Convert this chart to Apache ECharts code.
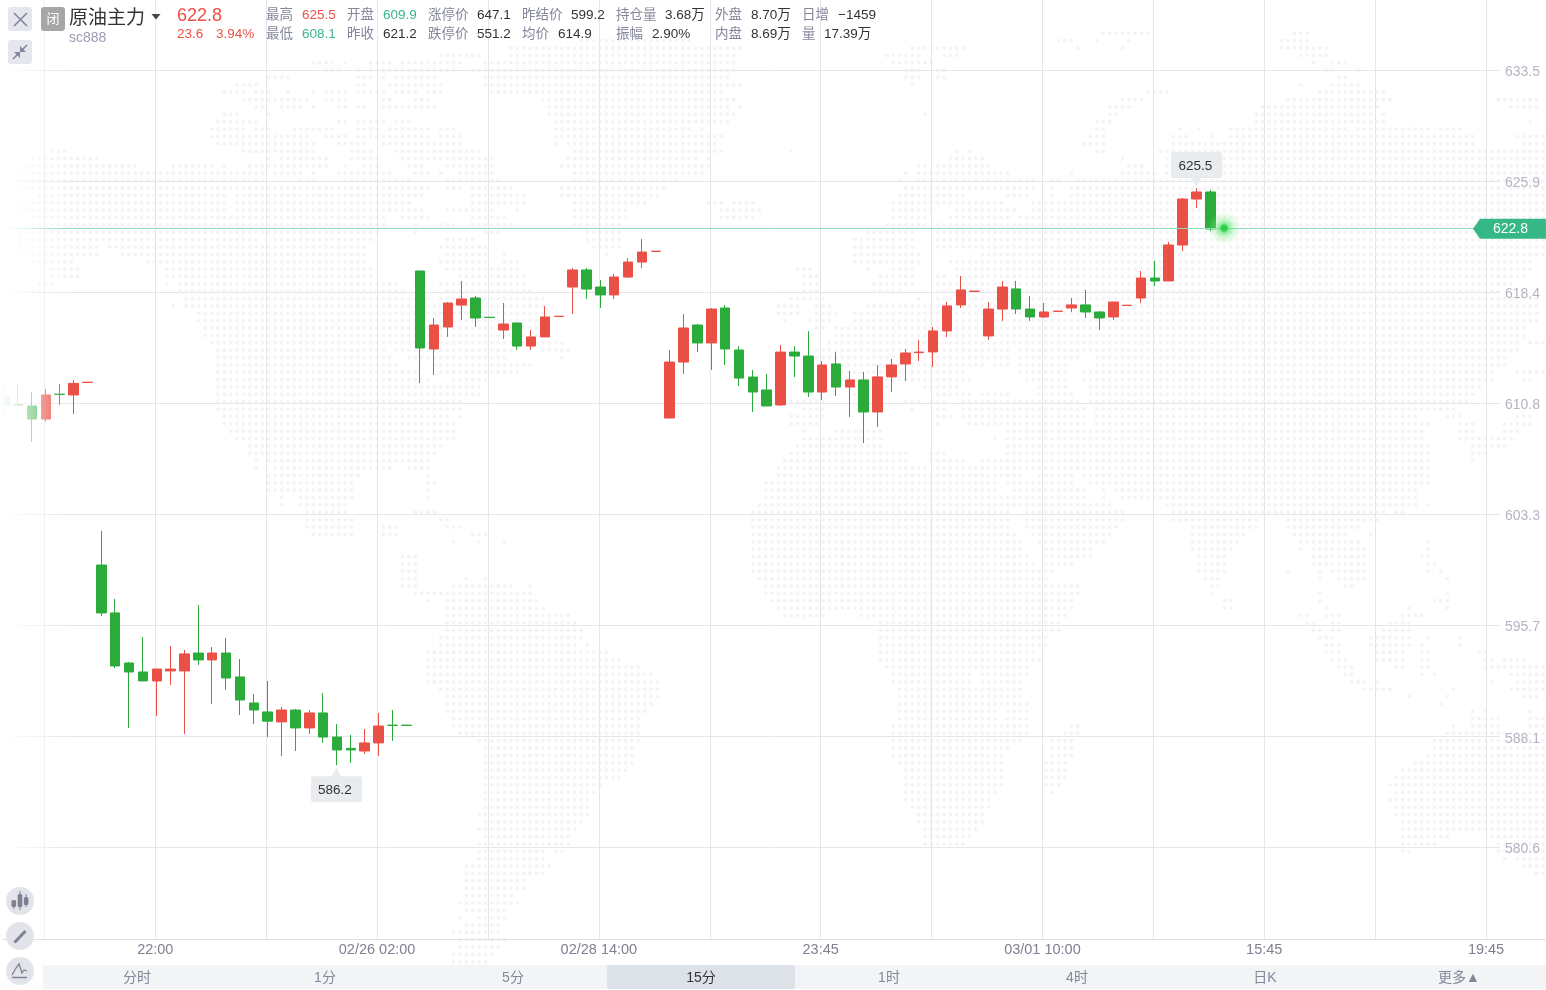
<!DOCTYPE html>
<html><head><meta charset="utf-8">
<style>html,body{margin:0;padding:0;background:#fff}#c{width:1546px;height:990px}</style>
<script src="https://cdn.jsdelivr.net/npm/echarts@6/dist/echarts.min.js"></script>
</head><body><div id="c"></div>
<script>
// ---------- chart values ----------
const opens  = [611.27,610.75,610.66,609.77,611.47,611.41,612.26,599.83,596.57,593.16,592.55,591.94,592.62,592.62,593.84,593.37,593.84,592.21,590.44,589.83,589.15,589.96,588.74,589.76,588.12,587.35,587.17,587.72,588.93,588.93,
619.85,614.54,616.04,617.53,618.01,616.70,615.83,616.31,614.74,615.36,616.75,618.76,619.92,618.76,618.22,619.44,620.46,621.18,
609.84,613.65,616.17,614.95,617.33,614.47,612.63,611.75,610.73,614.33,614.06,611.61,613.52,611.95,612.43,610.25,612.64,613.52,614.29,614.34,615.77,617.54,618.46,615.43,617.26,618.63,617.26,616.72,617.10,617.33,617.54,617.06,616.72,617.50,618.01,619.37,619.17,621.62,624.75,625.23];
const closes = [610.68,610.72,609.77,611.41,611.44,612.20,612.28,596.57,592.96,592.55,591.94,592.75,592.75,593.78,593.37,593.84,592.14,590.64,589.96,589.20,589.96,588.74,589.76,588.12,587.24,587.24,587.72,588.87,588.91,588.91,
614.61,616.17,617.67,617.94,616.65,616.68,616.24,614.74,615.36,616.72,616.77,619.92,618.62,618.22,619.44,620.46,621.14,621.20,
613.65,615.97,614.95,617.26,614.54,612.56,611.61,610.66,614.33,614.06,611.61,613.45,611.95,612.43,610.25,612.64,613.45,614.27,614.33,615.77,617.47,618.56,618.48,617.26,618.76,617.26,616.72,617.06,617.12,617.54,617.06,616.65,617.74,617.52,619.37,619.17,621.62,624.75,625.23,622.71];
const lows   = [609.93,610.70,608.23,609.59,610.73,610.11,612.26,596.36,592.82,588.74,591.94,589.55,591.67,588.33,593.03,590.37,591.33,589.62,589.01,588.12,586.83,587.17,588.33,587.72,586.20,586.36,586.97,586.83,587.85,588.91,
612.22,612.77,615.36,616.51,616.04,616.68,615.22,614.47,614.47,615.36,616.75,616.92,617.94,617.33,617.94,619.37,620.05,621.18,
609.84,612.84,614.33,613.11,613.45,612.02,610.25,610.66,610.66,612.63,611.27,611.07,611.34,609.91,608.14,609.23,611.61,612.36,613.72,613.32,615.36,617.33,618.46,615.15,616.45,616.92,616.45,616.65,617.10,617.06,616.65,615.84,616.52,617.50,617.67,618.83,619.17,621.21,624.14,622.57];
const highs  = [612.20,612.20,611.61,611.82,612.16,612.43,612.28,602.15,597.52,593.23,594.93,592.75,594.32,594.05,597.11,594.25,594.87,593.43,591.05,591.94,590.17,590.03,589.96,591.12,589.01,588.26,588.67,589.76,589.96,588.93,
619.85,616.65,617.74,619.17,618.15,616.70,617.67,616.31,615.83,617.47,616.77,620.05,620.05,619.24,619.64,620.73,622.03,621.20,
614.47,616.92,616.24,617.33,617.53,614.74,613.11,612.84,614.81,614.74,615.76,613.72,614.34,613.04,612.98,613.45,613.86,614.54,615.15,616.04,617.74,619.51,618.48,617.74,619.17,619.17,618.15,617.67,617.12,618.01,618.56,617.13,617.74,617.52,619.85,620.53,621.83,624.82,625.50,625.37];
const lastPrice = 622.77;
const yTicks = [633.5,625.943,618.386,610.829,603.272,595.715,588.14,580.601];
const xTickIndex = [11,27,43,59,75,91,107];
const xTickLabels = ['22:00','02/26 02:00','02/28 14:00','23:45','03/01 10:00','15:45','19:45'];
const tabs = ['分时','1分','5分','15分','1时','4时','日K','更多▲'];
const headerRow1 = [['最高',266,'g'],['625.5',302,'r'],['开盘',347,'g'],['609.9',383,'t'],['涨停价',428,'g'],['647.1',477,'k'],['昨结价',522,'g'],['599.2',571,'k'],['持仓量',616,'g'],['3.68万',665,'k'],['外盘',715,'g'],['8.70万',751,'k'],['日增',802,'g'],['−1459',838,'k']];
const headerRow2 = [['最低',266,'g'],['608.1',302,'t'],['昨收',347,'g'],['621.2',383,'k'],['跌停价',428,'g'],['551.2',477,'k'],['均价',522,'g'],['614.9',558,'k'],['振幅',616,'g'],['2.90%',652,'k'],['内盘',715,'g'],['8.69万',751,'k'],['量',802,'g'],['17.39万',824,'k']];

// ---------- decorative dotted world map (background only) ----------
const mapA = [[8,"635-665 700 740-790 815-845 860-925 975-1475"],[30,"660-680 715 745-790 800-910 945-1470"],[52,"545-575 715-745 765 800-870 975-1465"],[74,"480-510 715-730 790-890 970-1490"],[96,"455-485 520-535 585 635 660-690 725-770 800-830 865-885 985-1450"],[118,"495-565 585-615 660-690 765-780 830-860 1090-1475"],[140,"520-530 570-610 635 675-690 715-730 765-870 1100-1460 1485"],[162,"445-470 545 1110-1475"],[184,"440-510 675 695 725-770 800-820 1120-1460"],[206,"430-495 520-535 595-625 645-665 725-755 790-860 880-910 1120-1390 1410"],[228,"430-620 660-700 725-755 775-810 825-855 890-925 1120-1420 1435-1445"],[250,"440-470 495-625 685-730 775-810 825-925 1120 1145-1435"],[272,"110-125 495-630 710-745 800-960 1160-1420 1435-1450"],[294,"70-200 535 560-650 710-755 810-985 1140-1400 1420"],[316,"55-275 350-385 405-415 430 455 505-650 700 735-755 825-845 905-985 1125-1425"],[338,"30-525 550-590 605 635 685-790 830-860 880 930-985 1160-1410"],[360,"40-525 605-630 700-820 905-1000 1160-1360"],[382,"40-590 605-860 905-920 955-1025 1135-1335"],[405,"75-450 480-845 945-1050 1135-1320"],[427,"30-450 480-770 790-820 945-985 1000-1050 1150-1300 1430-1450 1480-1515"],[449,"30-450 480-845 905-985 1035 1150-1260 1455-1525"],[471,"70-770 810-860 945-1010 1160-1260 1455-1515"],[493,"55-770 830 890-910 955-1025 1160-1245"],[515,"30-520 530-760 840 975-1000 1175-1245"],[537,"30-520 555-745 905-950 1185-1245"],[560,"45-200 220-520 530-730 890-975 1195-1245"],[582,"45-155 170-190 250-730 905-975 1020 1225"],[604,"70-140 300-730 890-975 1020-1035"],[626,"110-150 330-745 905-1040"],[648,"110-150 330-745 920-1050"],[670,"85-100 330 355-795 880 905-1050"],[692,"60-75 355-810 905-1060"],[714,"375-860 880-1090"],[737,"350 375-680 700-1090"],[760,"405-690 710-1090"],[782,"405-1100"],[804,"415-1100"],[826,"415-1100"],[848,"430 440-1130"],[870,"440-770 800-1030 1085-1140"],[892,"440-780 825-1010 1135"],[915,"440-800 875-1060"],[937,"440-800 815-835 880-1040"],[960,"440-800 815-865 915-970"],[982,"440-800 815-960"],[1004,"440-960"],[1026,"440-930"],[1048,"440-920"],[1070,"455-900 920"],[1092,"455-910"],[1114,"465-910"],[1136,"480-910"],[1158,"505-885"],[1180,"505-870"],[1202,"520 545-860"],[1224,"520 555-780 820-860"],[1246,"535 555-720 855"],[1268,"535-550 570-705 855-870"],[1290,"545-565 580-705 865"],[1312,"560 605-705 865"],[1335,"570 605-695"],[1357,"620-695 840-870"],[1379,"620-705 880-895"],[1402,"620-705 775-795 905-920"],[1424,"635-705 765-795 950-975"]];
const mapB = [[10,"680-770 1060-1090"],[32,"590-610 660 730 1035-1090"],[54,"290-400 625 720 1035-1120"],[76,"240-310 355-380 1075-1120"],[98,"250-335 1105 1140-1170"],[120,"280-310 340-360 1125-1145 1190"],[142,"280-310 340-360 1150-1170"],[164,"293 1080 1140-1195"],[186,"765-800 1115-1245"],[208,"715-760 1045-1260 1475-1555"],[230,"690-730 995-1225 1495-1555"],[252,"320 690-705 990-1220 1245"],[274,"660-695 985-1200 1220-1235 1540"],[296,"660-680 830 870 935-1170 1190-1325 1360-1400"],[318,"650-680 820-850 895 935-1415 1510-1568"],[340,"640-680 815-1415 1525-1568"],[362,"45 380 405 670-680 790-1415 1430-1568"],[384,"370-435 720 805-1568"],[406,"305-320 340-450 730-760 800-1568"],[428,"280 305-490 610 720-780 800-1568"],[450,"265 305-540 575-590 625-1568"],[472,"275-540 575 610-1568"],[494,"265-400 480-530 575 610-1568"],[516,"250-475 535-1568"],[538,"250-335 380-480 495 535-1568"],[560,"250-320 365-490 510-1568"],[582,"240-320 350-1568"],[604,"205-295 340-1568"],[626,"185-295 340-1568"],[648,"185-295 340-1568"],[672,"185-310 430-1568"],[694,"185-310 365-1530"],[716,"60-90 200 250-295 380-1530"],[738,"70-100 225-295 340-360 380-1520"],[760,"70-100 215-295 340-1500"],[782,"70-100 215-270 340-1475"],[804,"45-115 305 340-1545"],[826,"30-60 100-130 200-1545"],[848,"30-60 100-140 175-1545"],[870,"35 85-130 175-1160 1175-1545"],[892,"100-115 135-1525"],[914,"135-1525"],[936,"125-1505 1540-1560"],[958,"100-490 510-1505"],[980,"100-490 510-630 660-1490"],[1002,"135-430 460-480 510-600 660-1490"],[1024,"135-390 510-600 635-1460 1510-1568"],[1046,"135-410 520-600 635-1465 1520-1540"],[1068,"165-245 315-385 550-605 650-1430"],[1090,"180-230 345-410 440-490 550-610 650-1420"],[1112,"45-115 275-310 330-360 395-630 650-1410"],[1134,"70-115 290 340-360 395-635 660-1370 1385"],[1156,"45-115 340-370 395-635 660-1300 1370-1400 1510-1530"],[1178,"50-105 345 410-635 660-1335 1400-1415 1490-1530"],[1200,"75 135-230 490-1320 1400-1415 1490-1515"],[1222,"70-230 460 485-1320 1390-1500"],[1246,"60-230 480-1325 1425-1480"],[1268,"45-285 330-360 480-1335 1425-1440"],[1290,"35-285 330-400 435-480 495-1335 1425"],[1312,"20-325 350-1335"],[1336,"20-510 550-610 635-1335"],[1358,"5-465 480-610 650-1325"],[1380,"5-465 495-640 700-1310"],[1402,"5-480 495-640 715-1310"],[1424,"5-480 495-660 800-1305 1330"]];
const mapC = [[15,"800-1350 1385-1568"],[37,"40-75 785-1360 1400-1568"],[59,"85-105 785-1365 1400-1568"],[81,"110-130 785-1365 1400-1568"],[103,"170-190 785-1380 1415-1568"],[125,"115 170 230 785-1395 1430-1568"],[147,"785-1395 1445-1550"],[169,"0-30 785-1405 1445-1540"],[191,"0-30 785-1420 1445-1500"],[213,"0-30 785-1465"],[236,"10-30 155 185 800-1440"],[258,"10-30 125-235 255 285 815-1525"],[280,"40-100 125-290 815-1525"],[302,"70 100-305 830-1510"],[324,"110-320 845-1510"],[346,"110-375 860-950 1030-1495"],[368,"110-390 1070-1480"],[390,"100-405 1070-1475"],[412,"95-405 1070-1450"],[436,"85-390 415 1070-1440"],[458,"70-460 1070-1420"],[480,"70-490 1070-1435"],[502,"70-535 1085-1405"],[524,"70-565 1100-1280 1300-1410"],[546,"70-580 1100-1280 1300-1395"],[568,"85-580 1115-1395"],[590,"100-580 1115-1395"],[612,"100-565 1115-1410"],[634,"110-550 1115-1335 1360-1410"],[656,"125-535 1115-1335 1360-1410"],[678,"125-535 1100-1410 1500-1520"],[700,"140-535 1100-1410 1485-1525"],[722,"170-535 1100-1395 1460-1510"],[745,"185-520 1100-1365 1460-1510"],[768,"185-520 1100-1350 1460-1510"],[790,"185-520 1115-1350 1445-1495"],[812,"185-505 1130-1350 1445-1495"],[834,"185-490 1130-1350 1445-1495"],[856,"185-445 1130-1350 1445-1480"],[878,"185-430 1130-1335 1460"],[900,"185-420 1130-1320"],[922,"185-420 1145-1320"],[945,"170-420 1160-1305"],[967,"185-405 1160-1305"],[990,"170-390 1175-1295"],[1012,"185-375 1175-1280"],[1034,"170-375 1175-1260"],[1056,"170-320 345-360"],[1078,"170-320"],[1100,"155-335"],[1122,"155-320"],[1144,"155-275"],[1166,"155-275"],[1188,"155-245"],[1210,"140-260"],[1232,"155-235"],[1254,"140 170-235"],[1276,"155-220"],[1298,"125-220"],[1320,"140-235"],[1342,"140-220"],[1365,"125-205"],[1387,"125-190"]];
const mapD = [[8,"10-970"],[30,"10 48-950"],[52,"10 105-145 180-950"],[75,"10-30 200-935 990"],[97,"10-65 220-855 890-910"],[119,"10-65 220-475 565-840"],[141,"10-50 280-475 565-765"],[163,"10-30 280-435 585-745 815"],[186,"10 280-415 605-765 990"],[208,"280-400 605 640-785 990"],[230,"300-380 640-800 970-990"],[252,"300-380 640-800 990-1010"],[274,"300 320-380 565 660 700-800 990 1030"],[296,"320-360 660 720-800 1045"],[318,"340-360 740-760"],[340,"340 660 1045"],[362,"380-400 660 1010-1050"],[384,"380-400 680 930 1045"],[407,"605-625 680-720 910-970"],[430,"625-645 700-720 875-935"],[452,"645-665 700-720 855-935"],[474,"660-700 815-935 990 1085"],[496,"680-720 815-935 970 1085"],[518,"680-720 835-915 970-990 1140-1160"],[540,"700-740 835-915 970-990 1160-1180 1220-1280"],[562,"720-760 890-915 970-990 1160-1320"],[584,"740-760 970 1010 1240-1338"],[606,"760-800 835 1180 1260-1338"],[628,"800-875 1065 1240-1320"],[650,"930 1045 1280-1300"],[672,"1030"],[695,"1120 1160 1295"],[717,"1120-1200 1295-1320"],[739,"1065 1120-1200 1295-1320"],[761,"1045-1338"],[783,"1010-1338"],[805,"1010-1338"],[827,"990-1338"],[850,"950-1338"],[872,"910-1338"],[894,"890-1338"],[916,"870-1338"],[938,"890-1338"],[960,"870-1338"],[982,"890-1338"],[1004,"890-1338"],[1026,"910-1338"],[1048,"910-1338"],[1070,"910-1050 1180-1338"],[1092,"910-1010 1200-1338"],[1114,"910-935 1200-1338"],[1136,"1220 1260-1320"],[1160,"1280-1320"],[1182,"1300-1320"]];
const mapTop = [[-3,"580-690"],[-2,"510-740"],[-1,"443-480 510-735"]];

const dotKeys = new Set();
function addMap(rows, xo, sx, yo){
  rows.forEach(([Y,runs])=>{
    const k = Math.round((yo+Y/3-62.7)/7.37);
    runs.split(' ').forEach(r=>{
      const p = r.split('-').map(Number);
      const a = p[0], b = p.length>1?p[1]:p[0];
      const c0 = Math.round((xo+a/sx-1.29)/6.37), c1 = Math.round((xo+b/sx-1.29)/6.37);
      for(let c=c0;c<=c1;c++) dotKeys.add((k+10)*1000+c);
    });
  });
}
addMap(mapA,0,2.01,60); addMap(mapB,766,2.01,30); addMap(mapC,400,2.24,500); addMap(mapD,1100,3,480);
mapTop.forEach(([k,runs])=>runs.split(' ').forEach(r=>{const p=r.split('-').map(Number);for(let c=Math.round((p[0]-1.29)/6.37);c<=Math.round((p[1]-1.29)/6.37);c++)dotKeys.add((k+10)*1000+c);}));
const dots = [];
dotKeys.forEach(key=>{
  const k = Math.floor(key/1000)-10, c = key%1000;
  dots.push({type:'circle',silent:true,z:-5,shape:{cx:1.29+6.37*c,cy:62.7+7.37*k,r:1.9},style:{fill:'#f4f4f6'}});
});

// ---------- chrome ----------
const FONT = '"Liberation Sans","Noto Sans CJK SC",sans-serif';
const RED='#EB5046', GREEN='#2AAB3A', TEAL='#36B886', GREY='#84869A', DARK='#333333';
const colorOf = {g:GREY,r:RED,t:TEAL,k:DARK};
function T(x,y,text,fill,size,align){
  return {type:'text',silent:true,z:60,x:x,y:y,style:{text:text,fill:fill,font:size+'px '+FONT,textAlign:align||'left',textVerticalAlign:'middle',textBaseline:'middle'}};
}
function R(x,y,w,h,fill,r,z){
  return {type:'rect',silent:true,z:z||60,shape:{x:x,y:y,width:w,height:h,r:r||0},style:{fill:fill}};
}
function L(pts,stroke,lw){
  return {type:'polyline',silent:true,z:61,shape:{points:pts},style:{stroke:stroke,lineWidth:lw,fill:null}};
}
const els = [].concat(dots);
// left fade over plot
els.push({type:'rect',silent:true,z:50,shape:{x:0,y:0,width:70,height:938},style:{fill:{type:'linear',x:0,y:0,x2:1,y2:0,colorStops:[{offset:0,color:'rgba(255,255,255,1)'},{offset:0.15,color:'rgba(255,255,255,0.9)'},{offset:1,color:'rgba(255,255,255,0)'}]}}});
// x-axis line tail to the window edge
els.push(R(1541,939,5,1,'#DFE0E6',0,3));
// buttons
els.push(R(8,7,24,24,'#E6E7EC',3),L([[14,13],[27,26]],'#83869A',1.6),L([[27,13],[14,26]],'#83869A',1.6));
els.push(R(8,40,24,24,'#E6E7EC',3),L([[13,59],[18.5,53.5]],'#83869A',1.6),L([[22,50],[27,45]],'#83869A',1.6),
 {type:'polygon',silent:true,z:61,shape:{points:[[14,52],[20,52],[20,58]]},style:{fill:'#83869A'}},
 {type:'polygon',silent:true,z:61,shape:{points:[[26,52],[20,52],[20,46]]},style:{fill:'#83869A'}});
els.push(R(41,7,24,24,'#A6A6A6',3),T(53,19.5,'闭','#FFFFFF',13,'center'));
els.push(T(69,18.5,'原油主力',DARK,19));
els.push({type:'polygon',silent:true,z:61,shape:{points:[[151.5,14],[160.5,14],[156,19.5]]},style:{fill:'#444444'}});
els.push(T(69,38.5,'sc888','#9A9CB0',14));
els.push(T(177,16.5,'622.8',RED,18),T(177,34,'23.6',RED,13.5),T(216,34,'3.94%',RED,13.5));
headerRow1.forEach(d=>els.push(T(d[1],15,d[0],colorOf[d[2]],13.5)));
headerRow2.forEach(d=>els.push(T(d[1],34.5,d[0],colorOf[d[2]],13.5)));
// tool circles
[901,936,971].forEach(cy=>els.push({type:'circle',silent:true,z:60,shape:{cx:20,cy:cy,r:14},style:{fill:'#E3E4EA'}}));
els.push(R(11.5,900,4.6,7,'#7E8094',1.5,61),R(17.7,894,4.6,13,'#7E8094',1.5,61),R(23.8,897,4.6,8,'#7E8094',1.5,61));
els.push(L([[13.8,904],[13.8,909]],'#7E8094',1),L([[20,891],[20,910]],'#7E8094',1),L([[26.1,894],[26.1,907]],'#7E8094',1));
els.push(L([[14.5,942.5],[25.5,931]],'#7E8094',3));
els.push(L([[12,975],[16,968],[19,964],[22,973],[24,970],[27,971]],'#7E8094',1.3),L([[12,977.5],[27,977.5]],'#7E8094',1.5));
// tabs
els.push(R(43,965,1503,24,'#F3F4F6',0));
els.push(R(607,965,188,24,'#DDE1E8',2));
tabs.forEach((t,i)=>{
  const sel = i===3;
  els.push(T(i===7?1459:137+188*i,978.5,t,sel?DARK:GREY,14,'center'));
});

// ---------- candlestick ----------
const candleData = opens.map((o,i)=>[o,closes[i],lows[i],highs[i]]);
const N = 112, STEP = 13.862;
const cats = Array.from({length:N},(_,i)=>{const j=xTickIndex.indexOf(i);return j>=0?xTickLabels[j]:String(i);});
const hi = highs.indexOf(Math.max.apply(null,highs)), lo = lows.indexOf(Math.min.apply(null,lows));
const PMIN = 574.37, PMAX = 638.3;
const lineC = {type:'linear',global:true,x:0,y:0,x2:1546,y2:0,colorStops:[{offset:0,color:'#E5E5EB'},{offset:0.97,color:'#E5E5EB'},{offset:0.9701,color:'rgba(229,229,235,0)'},{offset:1,color:'rgba(229,229,235,0)'}]};

const chart = echarts.init(document.getElementById('c'),null,{renderer:'canvas',width:1546,height:990});
chart.setOption({
  animation:false,
  backgroundColor:'#fff',
  textStyle:{fontFamily:FONT},
  grid:[
    {left:4.3,top:0,width:STEP*(N-1),height:939,containLabel:false},
    {left:2.8,top:0,width:STEP*(N-1),height:939,containLabel:false}
  ],
  xAxis:[
    {type:'category',gridIndex:0,show:false,boundaryGap:false,data:cats},
    {type:'category',gridIndex:1,boundaryGap:false,data:cats,
     axisLine:{lineStyle:{color:'#DFE0E6',width:1}},
     axisTick:{show:false},
     splitLine:{show:true,interval:i=>i%8===3,lineStyle:{color:'#E5E5EB',width:1}},
     axisLabel:{color:'#7F8192',fontSize:14.5,fontFamily:FONT,margin:4,interval:i=>xTickIndex.indexOf(i)>=0}}
  ],
  yAxis:[
    {type:'value',gridIndex:0,show:false,min:PMIN,max:PMAX,scale:true,splitLine:{show:false}},
    {type:'value',gridIndex:1,position:'right',min:PMIN,max:PMAX,scale:true,
     axisLine:{show:false},
     axisTick:{show:false,customValues:yTicks},
     splitLine:{show:true,lineStyle:{color:lineC,width:1}},
     axisLabel:{inside:true,margin:1.5,customValues:yTicks,formatter:v=>'{a|'+v.toFixed(1)+'}',
       rich:{a:{color:'#B4B5C2',fontSize:14,fontFamily:FONT,padding:[4,0,0,0]}}}}
  ],
  graphic:{elements:[{type:'group',silent:true,z:-5,children:els}]},
  series:[{
    type:'candlestick',xAxisIndex:0,yAxisIndex:0,data:candleData,clip:false,
    barWidth:10,
    itemStyle:{color:RED,color0:GREEN,borderColor:RED,borderColor0:GREEN,borderWidth:1},
    emphasis:{disabled:true},
    markLine:{silent:true,symbol:'none',animation:false,label:{show:false},
      lineStyle:{color:'#8ADBB9',width:1,type:'solid'},
      data:[{yAxis:lastPrice}]},
    markPoint:{silent:true,animation:false,data:[
      {coord:[hi,625.5],symbol:'path://M2 0H49a2 2 0 0 1 2 2V24a2 2 0 0 1-2 2H30L25.5 35L21 26H2a2 2 0 0 1-2-2V2A2 2 0 0 1 2 0Z',symbolSize:[51,35],symbolOffset:[0,-18.5],itemStyle:{color:'#E9ECEF'},
       label:{show:true,position:'inside',offset:[-1,-3.5],formatter:'625.5',color:DARK,fontSize:13.5,fontFamily:FONT}},
      {coord:[lo,586.2],symbol:'path://M21 9L25.5 0L30 9H49a2 2 0 0 1 2 2V33a2 2 0 0 1-2 2H2a2 2 0 0 1-2-2V11A2 2 0 0 1 2 9Z',symbolSize:[51,35],symbolOffset:[-0.5,19.5],itemStyle:{color:'#E9ECEF'},
       label:{show:true,position:'inside',offset:[-1.5,6],formatter:'586.2',color:DARK,fontSize:13.5,fontFamily:FONT}},
      {coord:[opens.length,lastPrice],symbol:'circle',symbolSize:34,
       itemStyle:{color:{type:'radial',x:0.5,y:0.5,r:0.5,colorStops:[{offset:0,color:'#2CC748'},{offset:0.16,color:'#36CF50'},{offset:0.3,color:'rgba(90,228,110,0.62)'},{offset:0.65,color:'rgba(140,240,150,0.25)'},{offset:1,color:'rgba(150,240,160,0)'}]}},label:{show:false}},
      {coord:[109,lastPrice],symbol:'path://M7 0H73V20H7L0 10Z',symbolSize:[73,20],symbolOffset:[-5.8,0.6],itemStyle:{color:TEAL},
       label:{show:true,position:'inside',offset:[1,0],formatter:lastPrice.toFixed(1),color:'#FFFFFF',fontSize:14,fontFamily:FONT}}
    ]}
  }]
});
</script></body></html>
